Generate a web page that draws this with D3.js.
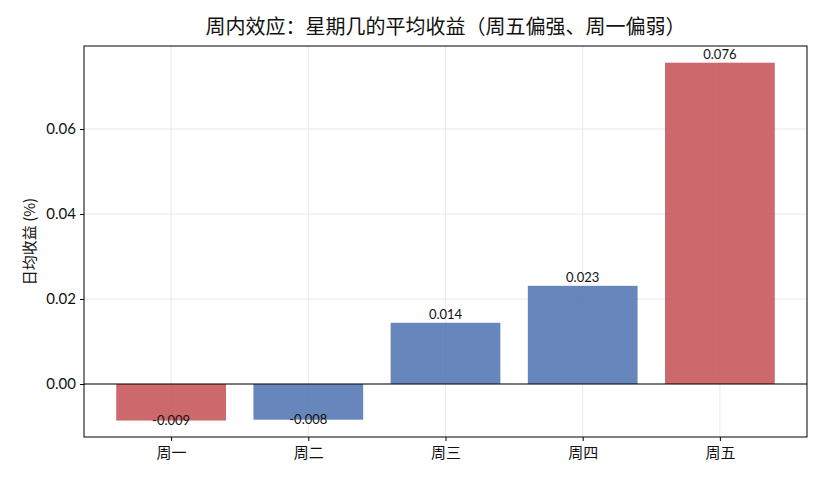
<!DOCTYPE html>
<html>
<head>
<meta charset="utf-8">
<script src="https://cdn.jsdelivr.net/npm/d3@7"></script>
<style>
  body { margin: 0; background: #fff; }
  text { font-family: "Lato", "Noto Sans CJK SC", sans-serif; fill: #111; }
</style>
</head>
<body>
<div id="chart"></div>
<script>
// weekday returns
var days = ["周一", "周二", "周三", "周四", "周五"]
var meanRet = [-0.0086, -0.0084, 0.0144, 0.0231, 0.0756]
var barColors = ["#c44e52", "#4c72b0", "#4c72b0", "#4c72b0", "#c44e52"]
var yTicks = [0, 0.02, 0.04, 0.06]

var W = 825, H = 484
var mLeft = 84, mRight = 807, mTop = 46, mBottom = 437

var svg = d3.select("#chart").append("svg")
    .attr("width", W)
    .attr("height", H)

var x = d3.scaleLinear().domain([-0.635, days.length - 1 + 0.635]).range([mLeft, mRight])
var y = d3.scaleLinear().domain([-0.01247, 0.07953]).range([mBottom, mTop])
var bw = x(0.8) - x(0)

// grid
svg.append("g").selectAll("line")
    .data(days)
    .enter().append("line")
    .attr("x1", function (d, i) { return x(i) })
    .attr("x2", function (d, i) { return x(i) })
    .attr("y1", mTop).attr("y2", mBottom)
    .attr("stroke", "#e3e3e3").attr("stroke-width", 0.8)

svg.append("g").selectAll("line")
    .data(yTicks)
    .enter().append("line")
    .attr("x1", mLeft).attr("x2", mRight)
    .attr("y1", function (d) { return y(d) })
    .attr("y2", function (d) { return y(d) })
    .attr("stroke", "#e3e3e3").attr("stroke-width", 0.8)

// bars
svg.append("g").selectAll("rect")
    .data(meanRet)
    .enter().append("rect")
    .attr("x", function (d, i) { return x(i) - bw / 2 })
    .attr("width", bw)
    .attr("y", function (d) { return y(Math.max(0, d)) })
    .attr("height", function (d) { return Math.abs(y(d) - y(0)) })
    .attr("fill", function (d, i) { return barColors[i] })
    .attr("fill-opacity", 0.85)

// zero line
svg.append("line")
    .attr("x1", mLeft).attr("x2", mRight)
    .attr("y1", y(0)).attr("y2", y(0))
    .attr("stroke", "#000").attr("stroke-width", 1)

// value labels
svg.append("g").selectAll("text")
    .data(meanRet)
    .enter().append("text")
    .attr("x", function (d, i) { return x(i) })
    .attr("y", function (d) { return d >= 0 ? y(d) - 4 : y(d) + 4 })
    .attr("text-anchor", "middle")
    .attr("font-size", 13)
    .text(function (d) { return d.toFixed(3) })

// frame
svg.append("rect")
    .attr("x", mLeft).attr("y", mTop)
    .attr("width", mRight - mLeft).attr("height", mBottom - mTop)
    .attr("fill", "none").attr("stroke", "#000").attr("stroke-width", 1)

// y axis
var yAxis = d3.axisLeft(y).tickValues(yTicks).tickSize(4).tickPadding(4)
    .tickFormat(d3.format(".2f"))
var gy = svg.append("g").attr("transform", "translate(" + mLeft + ",0)").call(yAxis)
gy.select(".domain").remove()
gy.selectAll("text").attr("font-size", 15).style("font-family", "Lato, sans-serif").attr("fill", "#111")

// x axis
var xAxis = d3.axisBottom(x).tickValues(d3.range(days.length)).tickSize(4).tickPadding(6)
    .tickFormat(function (d) { return days[d] })
var gx = svg.append("g").attr("transform", "translate(0," + mBottom + ")").call(xAxis)
gx.select(".domain").remove()
gx.selectAll("text").attr("font-size", 15).style("font-family", "'Noto Sans CJK SC', sans-serif").attr("fill", "#111")

// title
svg.append("text")
    .attr("x", (mLeft + mRight) / 2).attr("y", 34)
    .attr("text-anchor", "middle")
    .attr("font-size", 20)
    .style("font-family", "'Noto Sans CJK SC', sans-serif")
    .text("周内效应：星期几的平均收益（周五偏强、周一偏弱）")

// y label
svg.append("text")
    .attr("transform", "translate(35," + ((mTop + mBottom) / 2) + ") rotate(-90)")
    .attr("text-anchor", "middle")
    .attr("font-size", 15)
    .style("font-family", "'Noto Sans CJK SC', sans-serif")
    .text("日均收益 (%)")
</script>
</body>
</html>
